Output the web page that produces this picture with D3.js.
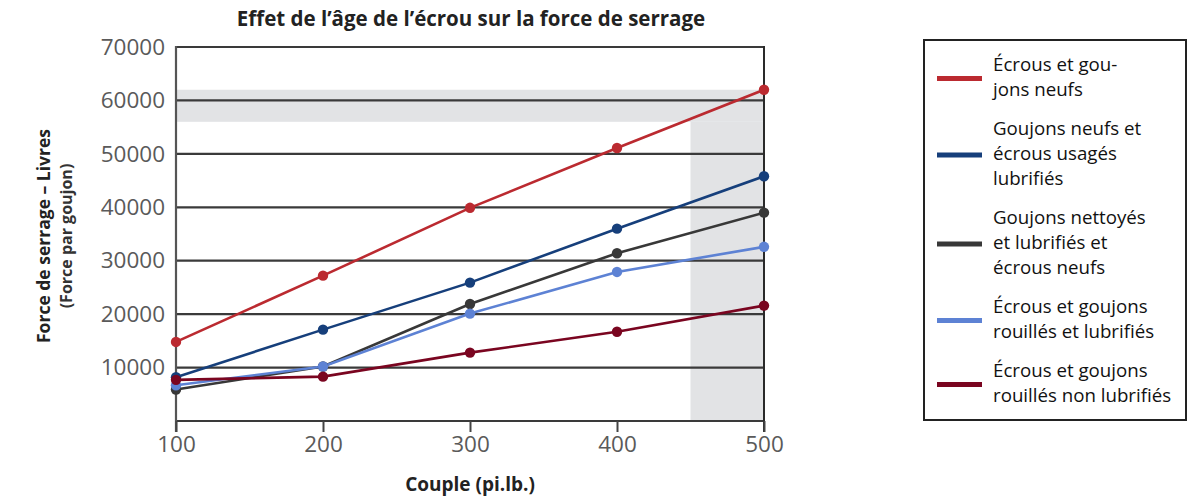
<!DOCTYPE html>
<html>
<head>
<meta charset="utf-8">
<script src="https://cdn.jsdelivr.net/npm/d3@7"></script>
<style>
  html, body { margin: 0; padding: 0; background: #fff; }
  svg { display: block; font-family: "Open Sans", Roboto, sans-serif; }
</style>
</head>
<body>
<svg id="chart" width="1203" height="498"></svg>
<script>
// ---- data ----
const torque = [100, 200, 300, 400, 500];
const yTicks = [10000, 20000, 30000, 40000, 50000, 60000, 70000];
const seriesNames = [
  "Écrous et goujons neufs",
  "Goujons neufs et écrous usagés lubrifiés",
  "Goujons nettoyés et lubrifiés et écrous neufs",
  "Écrous et goujons rouillés et lubrifiés",
  "Écrous et goujons rouillés non lubrifiés"
];
const legendLines = [
  ["Écrous et gou-", "jons neufs"],
  ["Goujons neufs et", "écrous usagés", "lubrifiés"],
  ["Goujons nettoyés", "et lubrifiés et", "écrous neufs"],
  ["Écrous et goujons", "rouillés et lubrifiés"],
  ["Écrous et goujons", "rouillés non lubrifiés"]
];
const newNutsNew = [14800, 27200, 39900, 51100, 62000];
const newStudsUsedNuts = [8200, 17100, 25900, 36000, 45800];
const cleanedLubed = [5900, 10200, 21900, 31400, 39000];
const rustyLubed = [6700, 10200, 20100, 27900, 32600];
const rustyDry = [7700, 8300, 12800, 16700, 21600];
const seriesValues = [newNutsNew, newStudsUsedNuts, cleanedLubed, rustyLubed, rustyDry];
const colors = ["#bb2a30", "#163f7b", "#383838", "#5d82d4", "#7a0520"];
const bandY = [56000, 62000];      // horizontal shaded zone (force)
const bandX = [450, 500];          // vertical shaded zone (torque)

// ---- layout ----
const svg = d3.select("#chart");
const mLeft = 176, mRight = 764, mTop = 47, mBottom = 421;
const x = d3.scaleLinear().domain([100, 500]).range([mLeft, mRight]);
const y = d3.scaleLinear().domain([0, 70000]).range([mBottom, mTop]);

// shaded zones
svg.append("rect")
  .attr("x", x(100)).attr("y", y(bandY[1]))
  .attr("width", x(500) - x(100)).attr("height", y(bandY[0]) - y(bandY[1]))
  .attr("fill", "#e2e3e5");
svg.append("rect")
  .attr("x", x(bandX[0])).attr("y", y(bandY[0]))
  .attr("width", x(bandX[1]) - x(bandX[0])).attr("height", y(0) - y(bandY[0]))
  .attr("fill", "#e2e3e5");

// horizontal grid lines (incl. baseline)
svg.append("g").selectAll("line")
  .data([0].concat(yTicks))
  .join("line")
  .attr("x1", x(100)).attr("x2", x(500))
  .attr("y1", d => y(d)).attr("y2", d => y(d))
  .attr("stroke", "#3a3a3a").attr("stroke-width", 2.2);

// left axis and right border
svg.append("line").attr("x1", x(100)).attr("x2", x(100))
  .attr("y1", y(70000) - 1).attr("y2", y(0) + 11)
  .attr("stroke", "#555").attr("stroke-width", 2.2);
svg.append("line").attr("x1", x(500)).attr("x2", x(500))
  .attr("y1", y(70000) - 1).attr("y2", y(0) + 11)
  .attr("stroke", "#2a2a2a").attr("stroke-width", 2);

// x axis ticks + labels
const xAxis = d3.axisBottom(x).tickValues(torque).tickSize(11).tickPadding(4).tickFormat(d3.format("d"));
const gx = svg.append("g").attr("transform", `translate(0,${y(0)})`).call(xAxis);
gx.select(".domain").remove();
gx.selectAll(".tick line").attr("stroke", "#444").attr("stroke-width", 2);
gx.selectAll(".tick text").attr("fill", "#5a5a5a").attr("font-size", 22.5).attr("font-family", "'Open Sans', sans-serif");

// y axis labels
const yAxis = d3.axisLeft(y).tickValues(yTicks).tickSize(0).tickPadding(11).tickFormat(d3.format("d"));
const gy = svg.append("g").attr("transform", `translate(${x(100)},0)`).call(yAxis);
gy.select(".domain").remove();
gy.selectAll(".tick text").attr("fill", "#5a5a5a").attr("font-size", 22.5).attr("font-family", "'Open Sans', sans-serif");

// series
const line = d3.line().x((d, i) => x(torque[i])).y(d => y(d));
seriesValues.forEach((vals, si) => {
  svg.append("path").datum(vals)
    .attr("d", line).attr("fill", "none")
    .attr("stroke", colors[si]).attr("stroke-width", 2.6);
});
seriesValues.forEach((vals, si) => {
  svg.append("g").selectAll("circle").data(vals).join("circle")
    .attr("cx", (d, i) => x(torque[i])).attr("cy", d => y(d))
    .attr("r", 5.2).attr("fill", colors[si]);
});

// title
svg.append("text").attr("x", 471).attr("y", 26).attr("text-anchor", "middle")
  .attr("font-size", 20.5).attr("font-weight", "bold").attr("fill", "#222")
  .text("Effet de l’âge de l’écrou sur la force de serrage");

// x label
svg.append("text").attr("x", 470).attr("y", 491).attr("text-anchor", "middle")
  .attr("font-size", 19).attr("font-weight", "bold").attr("fill", "#222")
  .text("Couple (pi.lb.)");

// y label
const yl = svg.append("text").attr("transform", "translate(50,236) rotate(-90)")
  .attr("text-anchor", "middle").attr("font-size", 17.5).attr("font-weight", "bold").attr("fill", "#222");
yl.append("tspan").attr("x", 0).attr("dy", 0).text("Force de serrage – Livres");
yl.append("tspan").attr("x", 0).attr("dy", 22).attr("font-size", 16).attr("fill", "#333").text("(Force par goujon)");

// legend
const lg = svg.append("g");
lg.append("rect").attr("x", 924).attr("y", 40).attr("width", 262).attr("height", 380)
  .attr("fill", "#fff").attr("stroke", "#222").attr("stroke-width", 2);
const lineH = 25, gap = 39;
let cy = 63;
legendLines.forEach((lines, i) => {
  const first = cy;
  const last = first + (lines.length - 1) * lineH;
  const mid = (first + last) / 2 + 3;
  lg.append("line").attr("x1", 937).attr("x2", 982).attr("y1", mid).attr("y2", mid)
    .attr("stroke", colors[i]).attr("stroke-width", 5);
  const t = lg.append("text").attr("font-size", 18.7).attr("fill", "#111");
  lines.forEach((s, j) => {
    t.append("tspan").attr("x", 993).attr("y", first + j * lineH).attr("dominant-baseline", "central").text(s);
  });
  cy = last + gap;
});
</script>
</body>
</html>
